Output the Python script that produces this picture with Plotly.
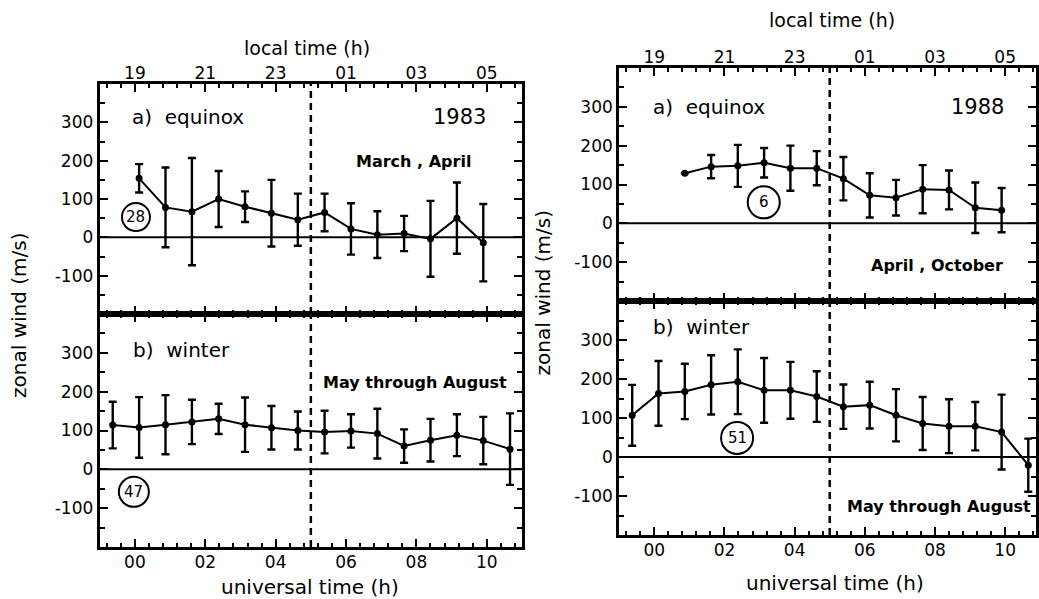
import plotly.graph_objects as go

W, H = 1039, 599
FONT = "DejaVu Sans"

# ---------------- data ----------------
ut_bins = [-0.63, 0.12, 0.87, 1.62, 2.38, 3.13, 3.88, 4.63, 5.39, 6.14,
           6.89, 7.65, 8.40, 9.15, 9.90, 10.66]

eq83_ut = ut_bins[1:15]
eq83_val = [154, 78, 67, 100, 80, 63, 46, 65, 22, 7, 10, -4, 50, -14]
eq83_err = [37, 104, 140, 73, 40, 87, 68, 49, 67, 61, 46, 99, 93, 101]

wi83_ut = ut_bins
wi83_val = [114, 108, 115, 122, 130, 115, 107, 100, 96, 99, 92, 60, 75, 88, 74, 52]
wi83_err = [60, 78, 76, 57, 39, 70, 56, 49, 55, 43, 64, 43, 55, 54, 61, 92]

eq88_ut = ut_bins[2:15]
eq88_val = [129, 146, 148, 156, 142, 142, 115, 72, 66, 88, 86, 40, 34]
eq88_err = [None, 30, 54, 38, 58, 44, 56, 57, 46, 62, 50, 65, 57]

wi88_ut = ut_bins
wi88_val = [107, 163, 168, 185, 193, 171, 171, 155, 129, 133, 107, 86, 79, 79, 64, -21]
wi88_err = [78, 83, 71, 76, 83, 83, 73, 65, 57, 60, 67, 68, 69, 62, 96, 68]

ut_ticks = [0, 2, 4, 6, 8, 10]
ut_labels = ["00", "02", "04", "06", "08", "10"]
lt_labels = ["19", "21", "23", "01", "03", "05"]
y_ticks = [-200, -100, 0, 100, 200, 300, 400]
y_labels = ["", "-100", "0", "100", "200", "300", ""]
midnight_ut = 5

# ---------------- layout helpers ----------------
def px(x):
    return x / W

def py(y):
    return 1 - y / H

fig = go.Figure()

panels = [
    ("eq83", eq83_ut, eq83_val, eq83_err, "x", "y", (100, 523.5), (84, 314), True, [-1, 11]),
    ("wi83", wi83_ut, wi83_val, wi83_err, "x2", "y2", (100, 523.5), (314, 547), False, [-1, 11]),
    ("eq88", eq88_ut, eq88_val, eq88_err, "x3", "y3", (621, 1039), (68, 301), True, [-1, 10.88]),
    ("wi88", wi88_ut, wi88_val, wi88_err, "x4", "y4", (621, 1039), (301, 535), False, [-1, 10.88]),
]

for name, xs, ys, es, xa, ya, xd, yd, top, xr in panels:
    fig.add_trace(go.Scatter(
        x=xs, y=ys, xaxis=xa, yaxis=ya, mode="lines+markers",
        line=dict(color="black", width=2),
        marker=dict(color="black", size=7),
        error_y=dict(type="data", array=es, visible=True, color="black",
                     thickness=2.4, width=4),
        showlegend=False, hoverinfo="skip"))
    xkey = "xaxis" if xa == "x" else "xaxis" + xa[1:]
    ykey = "yaxis" if ya == "y" else "yaxis" + ya[1:]
    fig.layout[xkey] = dict(
        domain=[px(xd[0]), px(xd[1])], anchor=ya, range=xr,
        side="top" if top else "bottom",
        tickmode="array", tickvals=ut_ticks,
        ticktext=lt_labels if top else ut_labels,
        ticks="inside", ticklen=8, tickwidth=2, tickcolor="black",
        ticklabelstandoff=-5 if top else -2,
        minor=dict(tick0=0, dtick=0.4, ticks="inside", ticklen=4, tickwidth=1.5,
                   tickcolor="black"),
        showline=True, linewidth=3, linecolor="black", mirror="allticks",
        showgrid=False, zeroline=False,
        tickfont=dict(family=FONT, size=17, color="black"),
    )
    fig.layout[ykey] = dict(
        domain=[py(yd[1]), py(yd[0])], anchor=xa, range=[-200, 400],
        tickmode="array", tickvals=y_ticks, ticktext=y_labels,
        ticks="inside", ticklen=8, tickwidth=2, tickcolor="black",
        minor=dict(tick0=0, dtick=50, ticks="inside", ticklen=5, tickwidth=2,
                   tickcolor="black"),
        showline=True, linewidth=3, linecolor="black", mirror="allticks",
        showgrid=False, zeroline=False,
        tickfont=dict(family=FONT, size=17, color="black"),
    )
    # zero line
    fig.add_shape(type="line", xref=f"{xa} domain", yref=ya, x0=0, x1=1, y0=0, y1=0,
                  line=dict(color="black", width=2))
    # midnight local time (dashed)
    fig.add_shape(type="line", xref=xa, yref=f"{ya} domain", x0=midnight_ut, x1=midnight_ut,
                  y0=0, y1=1, line=dict(color="black", width=2.5, dash="7px,5px"))

# circled sample counts
circles = [("28", "x", "y", 0.03, 53, 14), ("47", "x2", "y2", -0.03, -58, 15),
           ("6", "x3", "y3", 3.12, 54, 16), ("51", "x4", "y4", 2.36, 49, 16)]
for txt, xa, ya, cx, cy, r in circles:
    fig.add_shape(type="circle", xref=xa, yref=ya, xsizemode="pixel", ysizemode="pixel",
                  xanchor=cx, yanchor=cy, x0=-r, x1=r, y0=-r, y1=r,
                  line=dict(color="black", width=2))
    fig.add_annotation(x=cx, y=cy, xref=xa, yref=ya, text=txt, showarrow=False,
                       font=dict(family=FONT, size=15, color="black"))

def note(text, x, y, size=20, xanchor="center", bold=False, angle=0):
    if bold:
        text = f"<b>{text}</b>"
    fig.add_annotation(x=px(x), y=py(y), xref="paper", yref="paper", text=text,
                       showarrow=False, xanchor=xanchor, yanchor="middle",
                       textangle=angle,
                       font=dict(family=FONT, size=size, color="black"))

# left figure texts
note("local time (h)", 308, 48, size=19)
note("universal time (h)", 311, 587)
note("zonal wind (m/s)", 19, 315, angle=-90)
note("a)  equinox", 130, 117, xanchor="left")
note("1983", 489, 117, size=21, xanchor="right")
note("March , April", 415, 161, size=16, bold=True)
note("b)  winter", 131, 350, xanchor="left")
note("May through August", 322, 382, size=16, xanchor="left", bold=True)

# right figure texts
note("local time (h)", 834, 20, size=19)
note("universal time (h)", 837, 583)
note("zonal wind (m/s)", 545, 293, angle=-90)
note("a)  equinox", 653, 107, xanchor="left")
note("1988", 1009, 107, size=21, xanchor="right")
note("April , October", 872, 265, size=16, xanchor="left", bold=True)
note("b)  winter", 653, 327, xanchor="left")
note("May through August", 847, 507, size=16, xanchor="left", bold=True)

fig.update_layout(width=W, height=H, margin=dict(l=0, r=0, t=0, b=0),
                  paper_bgcolor="white", plot_bgcolor="white",
                  font=dict(family=FONT, color="black"), showlegend=False)

fig.write_html("out.html")
